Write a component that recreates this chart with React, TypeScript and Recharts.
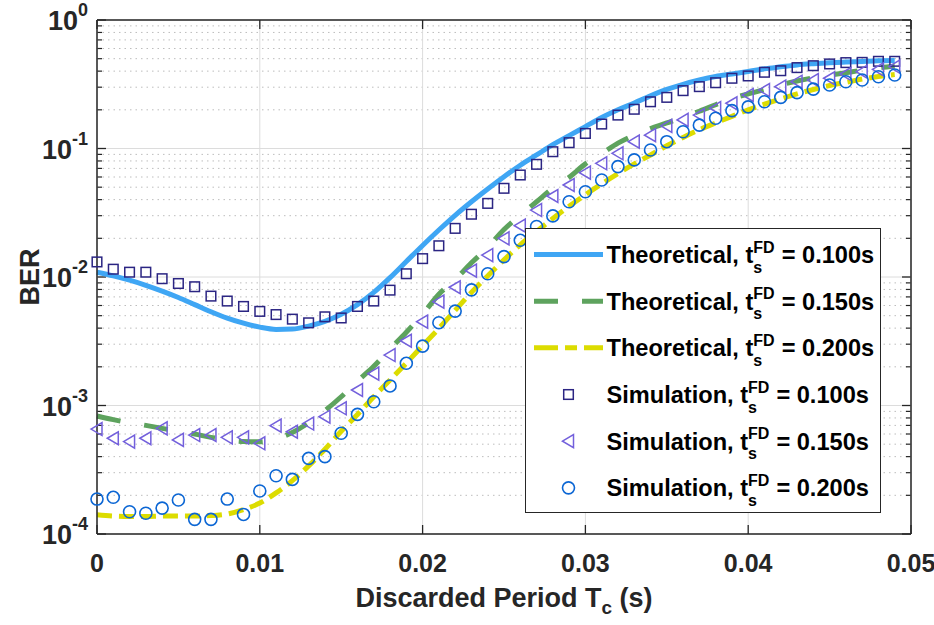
import React from 'react';
import { ComposedChart, Line, XAxis, YAxis, ReferenceLine, Legend } from 'recharts';

const periods = [
  0, 0.001, 0.002, 0.003, 0.004, 0.005, 0.006, 0.007, 0.008, 0.009,
  0.01, 0.011, 0.012, 0.013, 0.014, 0.015, 0.016, 0.017, 0.018, 0.019,
  0.02, 0.021, 0.022, 0.023, 0.024, 0.025, 0.026, 0.027, 0.028, 0.029,
  0.03, 0.031, 0.032, 0.033, 0.034, 0.035, 0.036, 0.037, 0.038, 0.039,
  0.04, 0.041, 0.042, 0.043, 0.044, 0.045, 0.046, 0.047, 0.048, 0.049,
];

const theory100 = [
  0.0109, 0.0102, 0.00944, 0.00861, 0.00776, 0.00692, 0.0061, 0.00537, 0.00479, 0.00437,
  0.00407, 0.00391, 0.00393, 0.00415, 0.00452, 0.00513, 0.0061, 0.00759, 0.00989, 0.0132,
  0.0176, 0.0232, 0.0302, 0.0385, 0.0484, 0.0603, 0.0741, 0.0891, 0.107, 0.126,
  0.148, 0.174, 0.2, 0.226, 0.257, 0.288, 0.316, 0.341, 0.363, 0.38,
  0.398, 0.417, 0.432, 0.447, 0.457, 0.465, 0.471, 0.476, 0.481, 0.483,
];

const theory150 = [
  0.000828, 0.000776, 0.000733, 0.0007, 0.000664, 0.000631, 0.0006, 0.000565, 0.00054, 0.000525,
  0.000522, 0.00055, 0.000617, 0.000733, 0.000912, 0.00117, 0.00155, 0.00202, 0.00275, 0.00372,
  0.00513, 0.00733, 0.00955, 0.0129, 0.017, 0.0234, 0.0302, 0.0385, 0.049, 0.0596,
  0.0759, 0.0912, 0.11, 0.127, 0.143, 0.158, 0.176, 0.195, 0.219, 0.245,
  0.266, 0.288, 0.313, 0.335, 0.355, 0.372, 0.389, 0.407, 0.425, 0.437,
];

const theory200 = [
  0.000141, 0.000138, 0.000137, 0.000137, 0.000138, 0.000138, 0.000138, 0.000139, 0.000143, 0.000155,
  0.000174, 0.000209, 0.00026, 0.000339, 0.000457, 0.000631, 0.000851, 0.00117, 0.00158, 0.00214,
  0.00292, 0.00398, 0.0055, 0.00759, 0.0102, 0.0136, 0.0178, 0.0226, 0.0285, 0.0355,
  0.0437, 0.0531, 0.0638, 0.0759, 0.0891, 0.105, 0.122, 0.14, 0.158, 0.178,
  0.2, 0.221, 0.243, 0.266, 0.288, 0.309, 0.327, 0.347, 0.363, 0.376,
];

const sim100 = [
  0.0131, 0.0115, 0.0109, 0.0109, 0.0097, 0.0089, 0.0084, 0.0071, 0.0065, 0.0059,
  0.0054, 0.0051, 0.0047, 0.0044, 0.0049, 0.0048, 0.0059, 0.0065, 0.0079, 0.0106,
  0.0139, 0.0175, 0.0239, 0.0308, 0.0374, 0.049, 0.0622, 0.0753, 0.0944, 0.111,
  0.131, 0.155, 0.182, 0.202, 0.231, 0.25, 0.282, 0.303, 0.325, 0.352,
  0.367, 0.392, 0.403, 0.426, 0.441, 0.455, 0.466, 0.468, 0.477, 0.477,
];

const sim150 = [
  0.000656, 0.000556, 0.000524, 0.000556, 0.000664, 0.00054, 0.000589, 0.000589, 0.000565, 0.000565,
  0.000508, 0.000697, 0.000625, 0.000724, 0.000818, 0.000951, 0.00132, 0.00177, 0.00247, 0.00319,
  0.00449, 0.00643, 0.00832, 0.0112, 0.0148, 0.02, 0.0251, 0.0332, 0.0427, 0.052,
  0.0649, 0.0767, 0.0918, 0.113, 0.127, 0.15, 0.167, 0.182, 0.206, 0.225,
  0.261, 0.285, 0.303, 0.331, 0.341, 0.352, 0.38, 0.396, 0.413, 0.434,
];

const sim200 = [
  0.000187, 0.000193, 0.000149, 0.000145, 0.000159, 0.000184, 0.00013, 0.00013, 0.000187, 0.000142,
  0.000216, 0.000284, 0.000266, 0.000388, 0.0004, 0.000608, 0.000853, 0.00107, 0.00142, 0.00213,
  0.0029, 0.00441, 0.00543, 0.00794, 0.0106, 0.0144, 0.0193, 0.0247, 0.0299, 0.0385,
  0.0461, 0.0569, 0.0723, 0.0815, 0.0973, 0.113, 0.135, 0.152, 0.172, 0.197,
  0.211, 0.231, 0.25, 0.272, 0.29, 0.312, 0.331, 0.341, 0.362, 0.373,
];

const xTicks = [0, 0.01, 0.02, 0.03, 0.04, 0.05];
const xTickLabels = ['0', '0.01', '0.02', '0.03', '0.04', '0.05'];
const yTicks = [0.0001, 0.001, 0.01, 0.1, 1];
const yTickExponents = ['-4', '-3', '-2', '-1', '0'];
const yMinorTicks = [
  0.0002, 0.0003, 0.0004, 0.0005, 0.0006, 0.0007, 0.0008, 0.0009,
  0.002, 0.003, 0.004, 0.005, 0.006, 0.007, 0.008, 0.009,
  0.02, 0.03, 0.04, 0.05, 0.06, 0.07, 0.08, 0.09,
  0.2, 0.3, 0.4, 0.5, 0.6, 0.7, 0.8, 0.9,
];
const legendPrefixes = ['Theoretical', 'Theoretical', 'Theoretical', 'Simulation', 'Simulation', 'Simulation'];
const legendValues = ['0.100s', '0.150s', '0.200s', '0.100s', '0.150s', '0.200s'];

const rows = periods.map((x, i) => ({
  x,
  t100: theory100[i],
  t150: theory150[i],
  t200: theory200[i],
  s100: sim100[i],
  s150: sim150[i],
  s200: sim200[i],
}));

const FONT = '"Liberation Sans", Arial, Helvetica, sans-serif';
const AX = '#262626';
const BLUE = '#3fa6f4';
const GREEN = '#5ea35e';
const YELLOW = '#dcdc00';
const SQ = '#2b2583';
const TRI = '#7360dc';
const CIR = '#0b66d4';

const MajorH = (p: any) => {
  const l = Math.min(p.x1, p.x2);
  const r = Math.max(p.x1, p.x2);
  const y = p.y1;
  return (
    <g>
      <line x1={l} x2={r} y1={y} y2={y} stroke="#dcdcdc" strokeWidth={1} />
      <line x1={l} x2={l + 9} y1={y} y2={y} stroke={AX} strokeWidth={1.3} />
      <line x1={r - 9} x2={r} y1={y} y2={y} stroke={AX} strokeWidth={1.3} />
    </g>
  );
};

const MinorH = (p: any) => {
  const l = Math.min(p.x1, p.x2);
  const r = Math.max(p.x1, p.x2);
  const y = p.y1;
  return (
    <g>
      <line x1={l} x2={r} y1={y} y2={y} stroke="#bdbdbd" strokeWidth={1} strokeDasharray="1.5 4" />
      <line x1={l} x2={l + 5} y1={y} y2={y} stroke={AX} strokeWidth={1.2} />
      <line x1={r - 5} x2={r} y1={y} y2={y} stroke={AX} strokeWidth={1.2} />
    </g>
  );
};

const MajorV = (p: any) => {
  const t = Math.min(p.y1, p.y2);
  const b = Math.max(p.y1, p.y2);
  const x = p.x1;
  return (
    <g>
      <line x1={x} x2={x} y1={t} y2={b} stroke="#dcdcdc" strokeWidth={1} />
      <line x1={x} x2={x} y1={b - 9} y2={b} stroke={AX} strokeWidth={1.3} />
      <line x1={x} x2={x} y1={t} y2={t + 9} stroke={AX} strokeWidth={1.3} />
    </g>
  );
};

const FrameLine = (p: any) => (
  <line x1={p.x1} x2={p.x2} y1={p.y1} y2={p.y2} stroke={AX} strokeWidth={1.5} />
);

const XTick = (p: any) => {
  const idx = xTicks.indexOf(p.payload.value);
  return (
    <text x={p.x} y={p.y + 38} textAnchor="middle" fontFamily={FONT} fontWeight="bold" fontSize={25} fill={AX}>
      {xTickLabels[idx]}
    </text>
  );
};

const YTick = (p: any) => {
  const idx = yTicks.indexOf(p.payload.value);
  return (
    <text x={p.x - 9} y={p.y + 10} textAnchor="end" fontFamily={FONT} fontWeight="bold" fontSize={27} fill={AX}>
      <tspan>10</tspan>
      <tspan dy={-14} fontSize={18}>{yTickExponents[idx]}</tspan>
    </text>
  );
};

const XLabel = (p: any) => {
  const vb = p.viewBox || { x: 97, y: 534, width: 814 };
  return (
    <text x={vb.x + vb.width / 2} y={vb.y + 73} textAnchor="middle" fontFamily={FONT} fontWeight="bold" fontSize={27} fill={AX}>
      <tspan>Discarded Period T</tspan>
      <tspan dy={7} fontSize={19}>c</tspan>
      <tspan dy={-7}> (s)</tspan>
    </text>
  );
};

const YLabel = (p: any) => {
  const vb = p.viewBox || { x: 37, y: 20, height: 514 };
  const cx = 30;
  const cy = vb.y + vb.height / 2;
  return (
    <text x={cx} y={cy} transform={`rotate(-90 ${cx} ${cy})`} textAnchor="middle" dominantBaseline="central" fontFamily={FONT} fontWeight="bold" fontSize={27} fill={AX}>
      BER
    </text>
  );
};

const SquareDot = (p: any) => {
  if (p.cx == null || p.cy == null) return <g key={`sq-${p.index}`} />;
  return (
    <rect key={`sq-${p.index}`} x={p.cx - 4.8} y={p.cy - 4.8} width={9.6} height={9.6} fill="none" stroke={SQ} strokeWidth={1.5} />
  );
};

const TriDot = (p: any) => {
  if (p.cx == null || p.cy == null) return <g key={`tr-${p.index}`} />;
  const { cx, cy } = p;
  return (
    <polygon key={`tr-${p.index}`} points={`${cx - 6},${cy} ${cx + 5},${cy - 6.5} ${cx + 5},${cy + 6.5}`} fill="none" stroke={TRI} strokeWidth={1.5} />
  );
};

const CircleDot = (p: any) => {
  if (p.cx == null || p.cy == null) return <g key={`ci-${p.index}`} />;
  return <circle key={`ci-${p.index}`} cx={p.cx} cy={p.cy} r={6} fill="none" stroke={CIR} strokeWidth={1.6} />;
};

const LFS = 23.6;
const SFS = 16;
const wFD = 1.333 * SFS;
const wS = 0.556 * SFS;

const LegendBox = () => {
  const rowGap = 46.67;
  return (
    <div style={{ width: 356, height: 285, boxSizing: 'border-box', border: `1.5px solid ${AX}`, background: '#fff' }}>
      <svg width={353} height={282} style={{ display: 'block' }}>
        {legendPrefixes.map((pre, k) => {
          const cy = 25.5 + rowGap * k;
          let sample: any = null;
          if (k === 0) sample = <line x1={8} x2={77} y1={cy} y2={cy} stroke={BLUE} strokeWidth={5} />;
          if (k === 1) sample = <line x1={8} x2={77} y1={cy} y2={cy} stroke={GREEN} strokeWidth={5} strokeDasharray="24 24" />;
          if (k === 2) sample = <line x1={8} x2={77} y1={cy} y2={cy} stroke={YELLOW} strokeWidth={5} strokeDasharray="24 7 12 7" />;
          if (k === 3) sample = <SquareDot cx={42.5} cy={cy} index={k} />;
          if (k === 4) sample = <TriDot cx={42.5} cy={cy} index={k} />;
          if (k === 5) sample = <CircleDot cx={42.5} cy={cy} index={k} />;
          return (
            <g key={k}>
              {sample}
              <text x={80.5} y={cy + 8.5} fontFamily={FONT} fontWeight="bold" fontSize={LFS} fill="#000">
                <tspan>{`${pre}, t`}</tspan>
                <tspan dy={-10.5} fontSize={SFS}>FD</tspan>
                <tspan dx={-wFD} dy={20} fontSize={SFS}>s</tspan>
                <tspan dx={wFD - wS + 7} dy={-9.5}>{`= ${legendValues[k]}`}</tspan>
              </text>
            </g>
          );
        })}
      </svg>
    </div>
  );
};

export default function App() {
  return (
    <div style={{ position: 'absolute', left: 0, top: 0, width: 934, height: 625, background: '#fff' }}>
      <ComposedChart width={934} height={625} data={rows} margin={{ top: 20, right: 23, bottom: 31, left: 37 }}>
        <XAxis
          dataKey="x"
          type="number"
          domain={[0, 0.05]}
          ticks={xTicks}
          interval={0}
          tick={<XTick />}
          tickLine={false}
          tickSize={0}
          tickMargin={0}
          height={60}
          axisLine={{ stroke: AX, strokeWidth: 1.5 }}
          label={{ content: (p: any) => <XLabel {...p} /> }}
        />
        <YAxis
          type="number"
          scale="log"
          domain={[0.0001, 1]}
          ticks={yTicks}
          interval={0}
          allowDataOverflow
          tick={<YTick />}
          tickLine={false}
          tickSize={0}
          tickMargin={0}
          width={60}
          axisLine={{ stroke: AX, strokeWidth: 1.5 }}
          label={{ content: (p: any) => <YLabel {...p} /> }}
        />
        {yMinorTicks.map((v) => (
          <ReferenceLine key={`mn-${v}`} y={v} shape={MinorH} />
        ))}
        {yTicks.map((v) => (
          <ReferenceLine key={`mj-${v}`} y={v} shape={MajorH} />
        ))}
        {xTicks.map((v) => (
          <ReferenceLine key={`vx-${v}`} x={v} shape={MajorV} />
        ))}
        <ReferenceLine y={1} shape={FrameLine} />
        <ReferenceLine x={0.05} shape={FrameLine} />
        <Line type="monotone" dataKey="t100" stroke={BLUE} strokeWidth={5} dot={false} activeDot={false} isAnimationActive={false} />
        <Line type="monotone" dataKey="t150" stroke={GREEN} strokeWidth={5} strokeDasharray="24 24" dot={false} activeDot={false} isAnimationActive={false} />
        <Line type="monotone" dataKey="t200" stroke={YELLOW} strokeWidth={5} strokeDasharray="15 7" dot={false} activeDot={false} isAnimationActive={false} />
        <Line dataKey="s100" stroke="none" dot={SquareDot} activeDot={false} isAnimationActive={false} />
        <Line dataKey="s150" stroke="none" dot={TriDot} activeDot={false} isAnimationActive={false} />
        <Line dataKey="s200" stroke="none" dot={CircleDot} activeDot={false} isAnimationActive={false} />
        <Legend
          layout="horizontal"
          verticalAlign="middle"
          align="center"
          content={() => <LegendBox />}
          wrapperStyle={{ left: 525, top: 228, width: 356, height: 285 }}
        />
      </ComposedChart>
    </div>
  );
}
